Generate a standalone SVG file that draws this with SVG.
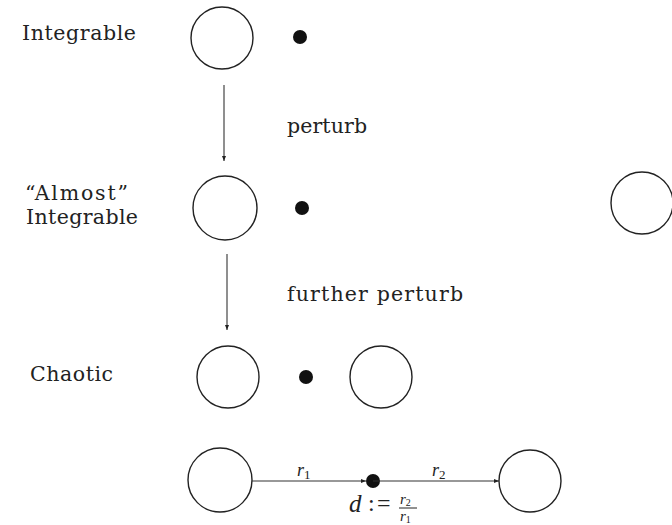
<svg xmlns="http://www.w3.org/2000/svg" width="672" height="525" viewBox="0 0 672 525">
<defs>
<marker id="ah" markerWidth="6" markerHeight="6" refX="5" refY="3" orient="auto" markerUnits="userSpaceOnUse">
<path d="M0,1 L5,3 L0,5 Z" fill="#222"/>
</marker>
</defs>
<style>
.c{fill:none;stroke:#222;stroke-width:1.4}
.d{fill:#111}
.t{font-family:"DejaVu Serif","Liberation Serif",serif;font-size:20.5px;fill:#222}
.m{font-family:"Liberation Serif",serif;font-style:italic;fill:#222}
.ln{stroke:#333;stroke-width:1.1;fill:none}
</style>
<rect width="672" height="525" fill="#fff"/>
<g id="labels">
<text class="t" x="22" y="40" textLength="114">Integrable</text>
<text class="t" x="25" y="200" textLength="103">“Almost”</text>
<text class="t" x="26" y="224" textLength="112">Integrable</text>
<text class="t" x="30" y="381" textLength="83">Chaotic</text>
<text class="t" x="287" y="133" textLength="80">perturb</text>
<text class="t" x="287" y="301" textLength="176">further perturb</text>
</g>
<g id="row1">
<circle class="c" cx="222" cy="38" r="31"/>
<circle class="d" cx="300" cy="37" r="7"/>
</g>
<g id="row2">
<circle class="c" cx="225" cy="208" r="32"/>
<circle class="d" cx="302" cy="208" r="7"/>
<circle class="c" cx="642" cy="203" r="31"/>
</g>
<g id="row3">
<circle class="c" cx="228" cy="377" r="31"/>
<circle class="d" cx="306" cy="377" r="7"/>
<circle class="c" cx="381" cy="377" r="31"/>
</g>
<g id="row4">
<circle class="c" cx="220" cy="480" r="32"/>
<circle class="d" cx="373" cy="481" r="7"/>
<circle class="c" cx="530" cy="481" r="31"/>
<text class="m" x="297" y="476" font-size="18">r<tspan font-size="13" font-style="normal" dy="3">1</tspan></text>
<text class="m" x="432" y="476" font-size="18">r<tspan font-size="13" font-style="normal" dy="3">2</tspan></text>
<text class="m" x="349" y="512" font-size="25">d</text>
<text x="368" y="511" font-family="Liberation Serif,serif" font-size="24" fill="#222">:<tspan x="377">=</tspan></text>
<text class="m" x="400" y="504" font-size="15">r<tspan font-size="10" font-style="normal" dy="2">2</tspan></text>
<line x1="399" y1="508" x2="417" y2="508" stroke="#222" stroke-width="1"/>
<text class="m" x="400" y="521" font-size="15">r<tspan font-size="10" font-style="normal" dy="2">1</tspan></text>
</g>
<g id="connectors">
<line class="ln" x1="224" y1="85" x2="224" y2="161" marker-end="url(#ah)"/>
<line class="ln" x1="227" y1="254" x2="227" y2="330" marker-end="url(#ah)"/>
<line class="ln" x1="252" y1="481" x2="366" y2="481" marker-end="url(#ah)"/>
<line class="ln" x1="373" y1="481" x2="499" y2="481" marker-end="url(#ah)"/>
</g>
</svg>
